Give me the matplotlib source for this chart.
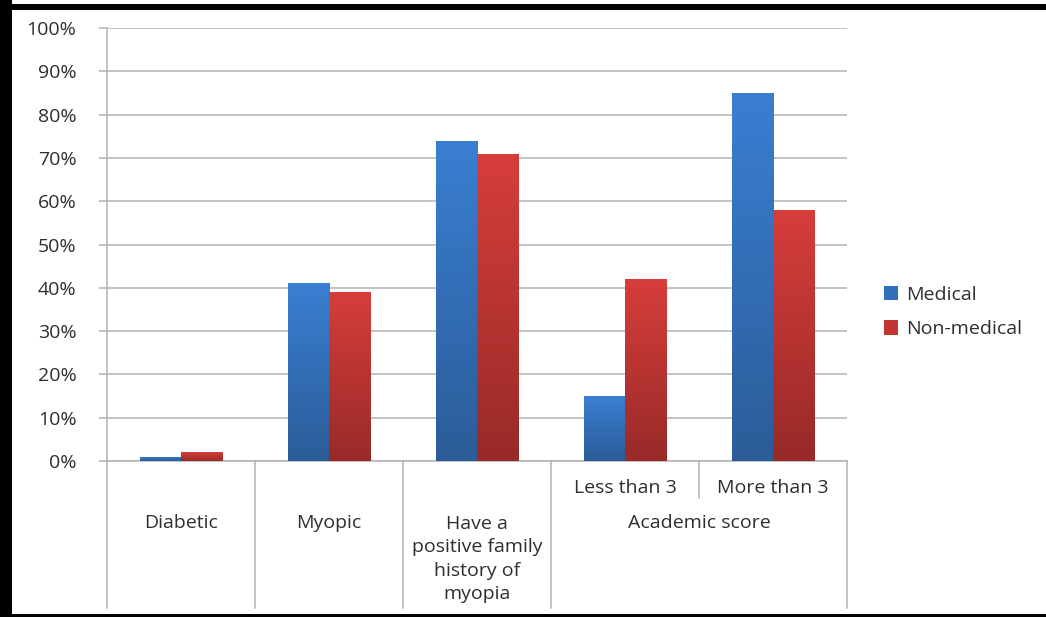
import numpy as np
import matplotlib
matplotlib.use("Agg")
import matplotlib.pyplot as plt
from matplotlib.patches import Rectangle, Patch
from matplotlib.colors import LinearSegmentedColormap

plt.rcParams['font.family'] = ['Open Sans', 'DejaVu Sans']

# Data
categories = ["Diabetic", "Myopic", "Have a\npositive family\nhistory of\nmyopia",
              "Less than 3", "More than 3"]
group_label = "Academic score"
series_names = ["Medical", "Non-medical"]
medical = [1, 41, 74, 15, 85]
non_medical = [2, 39, 71, 42, 58]
yticks = list(range(0, 101, 10))

W, H = 1046, 617
fig = plt.figure(figsize=(W / 100, H / 100), dpi=100)
fig.patch.set_facecolor("white")

ax_l, ax_r, ax_t, ax_b = 107, 847, 28, 461
ax = fig.add_axes([ax_l / W, 1 - ax_b / H, (ax_r - ax_l) / W, (ax_b - ax_t) / H])

grid_col = "#b3b3b3"
text_col = "#2e2e2e"
fs = 14

ax.set_xlim(-0.5, len(categories) - 0.5)
ax.set_ylim(0, 100)
ax.set_yticks(yticks)
ax.set_yticklabels([f"{v}%" for v in yticks], fontsize=fs, color=text_col)
ax.set_xticks([])
ax.yaxis.grid(True, color=grid_col, linewidth=1.1)
ax.set_axisbelow(True)
for s in ["top", "right"]:
    ax.spines[s].set_visible(False)
ax.spines["left"].set_color(grid_col)
ax.spines["bottom"].set_color(grid_col)
ax.spines["left"].set_linewidth(1.1)
ax.spines["bottom"].set_linewidth(1.1)
ax.tick_params(axis="y", length=6, color=grid_col, width=1.1, pad=16)

blue_cmap = LinearSegmentedColormap.from_list("blue", ["#2b5c98", "#3a7fd2"])
red_cmap = LinearSegmentedColormap.from_list("red", ["#982a28", "#d63e3b"])

bw = 0.28
x = np.arange(len(categories))
grad = np.linspace(0, 1, 256).reshape(-1, 1)


def gradient_bars(xpos, vals, cmap):
    bars = ax.bar(xpos, vals, width=bw, color="none", edgecolor="none", zorder=3)
    for b in bars:
        bx, by = b.get_x(), b.get_y()
        bwid, bh = b.get_width(), b.get_height()
        im = ax.imshow(grad, cmap=cmap, origin="lower", aspect="auto",
                       extent=[bx, bx + bwid, by, by + bh], zorder=3,
                       interpolation="bilinear")
        im.set_clip_path(b)
    return bars


gradient_bars(x - bw / 2, medical, blue_cmap)
gradient_bars(x + bw / 2, non_medical, red_cmap)
ax.set_xlim(-0.5, len(categories) - 0.5)
ax.set_ylim(0, 100)


def fy(py):
    # pixel row -> axes fraction
    return (ax_b - py) / (ax_b - ax_t)


xt = ax.get_xaxis_transform()

# Category separators below the axis
for xb in [-0.5, 0.5, 1.5, 2.5, 4.5]:
    ax.plot([xb, xb], [0, fy(608)], transform=xt, color=grid_col, lw=1.1,
            clip_on=False)
ax.plot([3.5, 3.5], [0, fy(498)], transform=xt, color=grid_col, lw=1.1,
        clip_on=False)

# Category labels
ax.text(x[0], fy(523), categories[0], transform=xt, ha="center", va="center",
        fontsize=fs, color=text_col)
ax.text(x[1], fy(523), categories[1], transform=xt, ha="center", va="center",
        fontsize=fs, color=text_col)
ax.text(x[2], fy(559), categories[2], transform=xt, ha="center", va="center",
        fontsize=fs, color=text_col, linespacing=1.38)
for i in (3, 4):
    ax.text(x[i], fy(488), categories[i], transform=xt, ha="center",
            va="center", fontsize=fs, color=text_col)
ax.text(3.5, fy(523), group_label, transform=xt, ha="center", va="center",
        fontsize=fs, color=text_col)

# Legend
handles = [Patch(facecolor="#3270bb", edgecolor="none"),
           Patch(facecolor="#c23533", edgecolor="none")]
fig.legend(handles, series_names, loc="center left",
           bbox_to_anchor=(866 / W, 1 - 312 / H), frameon=False,
           fontsize=fs, labelcolor=text_col, handlelength=0.75,
           handleheight=0.75, handletextpad=0.4, labelspacing=0.85)

# Black frame
fig.patches.append(Rectangle((0, 0), 12 / W, 1, transform=fig.transFigure,
                             facecolor="black", edgecolor="none"))
fig.patches.append(Rectangle((0, 1 - 10 / H), 1, 6 / H, transform=fig.transFigure,
                             facecolor="black", edgecolor="none"))
fig.patches.append(Rectangle((0, 0), 1, 3 / H, transform=fig.transFigure,
                             facecolor="black", edgecolor="none"))

fig.savefig("out.png", dpi=100, facecolor="white")
